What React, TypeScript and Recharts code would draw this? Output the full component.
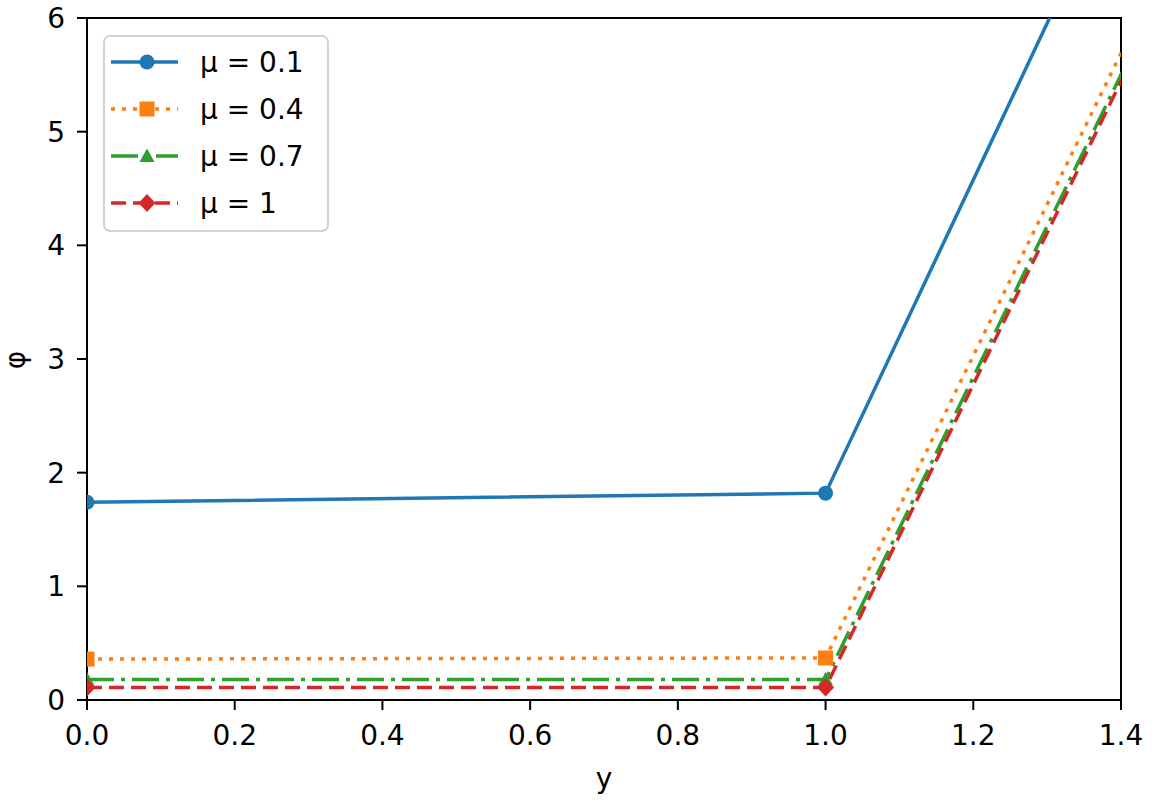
import React from "react";
import { LineChart, Line, XAxis, YAxis, ReferenceArea, Legend } from "recharts";

// values (x = y-coordinate, one series per mu)
const yValues = [0, 1, 2];
const phiMu01 = [1.74, 1.82, 15.6];
const phiMu04 = [0.36, 0.37, 13.67];
const phiMu07 = [0.18, 0.18, 13.48];
const phiMu10 = [0.11, 0.11, 13.44];

const xTicks = [0, 0.2, 0.4, 0.6, 0.8, 1.0, 1.2, 1.4];
const yTicks = [0, 1, 2, 3, 4, 5, 6];

const rows = yValues.map((y, i) => ({
  y,
  mu01: phiMu01[i],
  mu04: phiMu04[i],
  mu07: phiMu07[i],
  mu10: phiMu10[i],
}));

type Marker = "circle" | "square" | "triangle" | "diamond";

const series: { key: string; label: string; color: string; dash?: string; marker: Marker }[] = [
  { key: "mu01", label: "μ = 0.1", color: "#1f77b4", marker: "circle" },
  { key: "mu04", label: "μ = 0.4", color: "#ff7f0e", dash: "4 7", marker: "square" },
  { key: "mu07", label: "μ = 0.7", color: "#2ca02c", dash: "27 7 4 7", marker: "triangle" },
  { key: "mu10", label: "μ = 1", color: "#d62728", dash: "15 7", marker: "diamond" },
];

const FONT = "'DejaVu Sans', sans-serif";
const LW = 3.5;

function markerShape(kind: Marker, cx: number, cy: number, color: string, key?: string) {
  const s = 7.5;
  if (kind === "circle") return <circle key={key} cx={cx} cy={cy} r={s} fill={color} />;
  if (kind === "square")
    return <rect key={key} x={cx - s} y={cy - s} width={2 * s} height={2 * s} fill={color} />;
  if (kind === "triangle")
    return (
      <polygon
        key={key}
        points={`${cx},${cy - s} ${cx - s},${cy + s * 0.8} ${cx + s},${cy + s * 0.8}`}
        fill={color}
      />
    );
  return (
    <polygon
      key={key}
      points={`${cx},${cy - 9} ${cx + 8.5},${cy} ${cx},${cy + 9} ${cx - 8.5},${cy}`}
      fill={color}
    />
  );
}

const renderLegend = () => (
  <svg width={226} height={197} style={{ display: "block", fontFamily: FONT }}>
    <rect x={1} y={1} width={224} height={195} rx={6} fill="#fff" fillOpacity={0.8} stroke="#d4d4d4" strokeWidth={2} />
    {series.map((s, i) => {
      const cy = 27 + i * 47;
      return (
        <g key={s.key}>
          <line x1={8} x2={75} y1={cy} y2={cy} stroke={s.color} strokeWidth={LW} strokeDasharray={s.dash} />
          {markerShape(s.marker, 44, cy, s.color)}
          <text x={97} y={cy} dy="0.36em" fontSize={28} fill="#000">
            {s.label}
          </text>
        </g>
      );
    })}
  </svg>
);

export default function App() {
  return (
    <div style={{ position: "absolute", left: 0, top: 0, background: "#fff" }}>
      <LineChart
        width={1155}
        height={809}
        data={rows}
        margin={{ top: 18, right: 34, left: 0, bottom: 0 }}
        style={{ fontFamily: FONT }}
      >
        <XAxis
          type="number"
          dataKey="y"
          domain={[0, 1.4]}
          allowDataOverflow
          ticks={xTicks}
          tickFormatter={(v: number) => v.toFixed(1)}
          tick={{ fill: "#000", fontSize: 28 }}
          tickSize={10}
          tickMargin={15}
          height={109}
          axisLine={{ stroke: "#000", strokeWidth: 2 }}
          tickLine={{ stroke: "#000", strokeWidth: 2 }}
          label={{ value: "y", position: "insideBottom", offset: 21, fill: "#000", fontSize: 28 }}
        />
        <YAxis
          type="number"
          domain={[0, 6]}
          allowDataOverflow
          ticks={yTicks}
          tick={{ fill: "#000", fontSize: 28 }}
          tickSize={10}
          tickMargin={12}
          width={87}
          axisLine={{ stroke: "#000", strokeWidth: 2 }}
          tickLine={{ stroke: "#000", strokeWidth: 2 }}
          label={{
            content: () => (
              <text
                x={15}
                y={360}
                transform="rotate(-90 15 360)"
                textAnchor="middle"
                dominantBaseline="central"
                fontSize={28}
                fill="#000"
              >
                φ
              </text>
            ),
          }}
        />
        <ReferenceArea x1={0} x2={1.4} y1={0} y2={6} fill="none" stroke="#000" strokeWidth={2} />
        {series.map((s) => (
          <Line
            key={s.key}
            type="linear"
            dataKey={s.key}
            stroke={s.color}
            strokeWidth={LW}
            strokeDasharray={s.dash}
            isAnimationActive={false}
            activeDot={false}
            dot={(p: any) => markerShape(s.marker, p.cx, p.cy, s.color, `${s.key}-${p.index}`)}
          />
        ))}
        <Legend
          layout="vertical"
          align="center"
          verticalAlign="middle"
          content={renderLegend}
          wrapperStyle={{ position: "absolute", left: 103, top: 35, width: 226, height: 197 }}
        />
      </LineChart>
    </div>
  );
}
